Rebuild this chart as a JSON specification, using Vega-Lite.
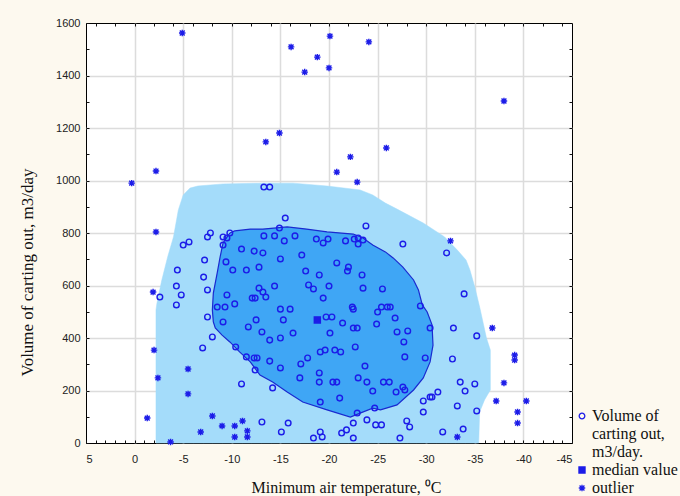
{
  "$schema": "https://vega.github.io/schema/vega-lite/v6.json",
  "width": 486,
  "height": 420,
  "autosize": "none",
  "padding": {"left": 86, "top": 23, "right": 108, "bottom": 53},
  "background": "#fdf9ef",
  "config": {
    "view": {"fill": "white", "stroke": "black", "strokeWidth": 1},
    "axis": {
      "domain": false,
      "tickColor": "#111111",
      "tickWidth": 1,
      "labelFont": "Liberation Sans",
      "labelFontSize": 11,
      "labelColor": "#222222",
      "labelOverlap": false,
      "titleFont": "Liberation Serif",
      "titleFontSize": 16,
      "titleFontWeight": "normal",
      "titleColor": "#111111",
      "gridColor": "#dcdcdc",
      "gridWidth": 1.5
    },
    "legend": {
      "orient": "none",
      "legendX": 488,
      "legendY": 385,
      "padding": 0,
      "rowPadding": 2,
      "labelFont": "Liberation Serif",
      "labelFontSize": 16,
      "labelColor": "#111111",
      "labelLimit": 200,
      "labelOffset": 2,
      "symbolStrokeWidth": 1.3
    }
  },
  "datasets": {
    "fence": [
      {"i": 0, "temp": -2.2, "volume": 0}, {"i": 1, "temp": -2.2, "volume": 507}, {"i": 2, "temp": -2.3, "volume": 533},
      {"i": 3, "temp": -2.8, "volume": 621}, {"i": 4, "temp": -3.4, "volume": 709}, {"i": 5, "temp": -4.0, "volume": 785},
      {"i": 6, "temp": -4.5, "volume": 888}, {"i": 7, "temp": -5.0, "volume": 945}, {"i": 8, "temp": -5.7, "volume": 971},
      {"i": 9, "temp": -6.5, "volume": 979}, {"i": 10, "temp": -9.1, "volume": 987}, {"i": 11, "temp": -13.4, "volume": 990},
      {"i": 12, "temp": -16.3, "volume": 990}, {"i": 13, "temp": -19.8, "volume": 979}, {"i": 14, "temp": -23.2, "volume": 964},
      {"i": 15, "temp": -24.5, "volume": 945}, {"i": 16, "temp": -25.8, "volume": 914}, {"i": 17, "temp": -27.0, "volume": 891},
      {"i": 18, "temp": -29.7, "volume": 838}, {"i": 19, "temp": -31.9, "volume": 785}, {"i": 20, "temp": -33.2, "volume": 735},
      {"i": 21, "temp": -34.1, "volume": 697}, {"i": 22, "temp": -34.5, "volume": 659}, {"i": 23, "temp": -35.0, "volume": 594},
      {"i": 24, "temp": -35.5, "volume": 518}, {"i": 25, "temp": -36.2, "volume": 400}, {"i": 26, "temp": -36.6, "volume": 354},
      {"i": 27, "temp": -36.6, "volume": 202}, {"i": 28, "temp": -36.0, "volume": 164}, {"i": 29, "temp": -35.5, "volume": 118},
      {"i": 30, "temp": -35.4, "volume": 0}, {"i": 31, "temp": -2.2, "volume": 0}
    ],
    "bag": [
      {"i": 0, "temp": -9.8, "volume": 800}, {"i": 1, "temp": -10.3, "volume": 808}, {"i": 2, "temp": -11.9, "volume": 815},
      {"i": 3, "temp": -13.2, "volume": 815}, {"i": 4, "temp": -15.7, "volume": 823}, {"i": 5, "temp": -17.7, "volume": 815},
      {"i": 6, "temp": -19.8, "volume": 804}, {"i": 7, "temp": -22.5, "volume": 796}, {"i": 8, "temp": -23.5, "volume": 781},
      {"i": 9, "temp": -24.5, "volume": 754}, {"i": 10, "temp": -25.8, "volume": 728}, {"i": 11, "temp": -26.6, "volume": 705},
      {"i": 12, "temp": -27.6, "volume": 670}, {"i": 13, "temp": -28.7, "volume": 621}, {"i": 14, "temp": -29.2, "volume": 583},
      {"i": 15, "temp": -29.6, "volume": 526}, {"i": 16, "temp": -30.1, "volume": 499}, {"i": 17, "temp": -30.6, "volume": 450},
      {"i": 18, "temp": -30.7, "volume": 373}, {"i": 19, "temp": -30.4, "volume": 309}, {"i": 20, "temp": -29.7, "volume": 248},
      {"i": 21, "temp": -28.7, "volume": 202}, {"i": 22, "temp": -27.0, "volume": 145}, {"i": 23, "temp": -25.3, "volume": 126},
      {"i": 24, "temp": -24.5, "volume": 133}, {"i": 25, "temp": -23.2, "volume": 114}, {"i": 26, "temp": -22.2, "volume": 99},
      {"i": 27, "temp": -19.8, "volume": 126}, {"i": 28, "temp": -17.3, "volume": 156}, {"i": 29, "temp": -15.7, "volume": 194},
      {"i": 30, "temp": -14.2, "volume": 232}, {"i": 31, "temp": -12.9, "volume": 259}, {"i": 32, "temp": -11.9, "volume": 309},
      {"i": 33, "temp": -10.8, "volume": 347}, {"i": 34, "temp": -9.8, "volume": 385}, {"i": 35, "temp": -9.0, "volume": 411},
      {"i": 36, "temp": -8.3, "volume": 438}, {"i": 37, "temp": -8.1, "volume": 461}, {"i": 38, "temp": -8.0, "volume": 507},
      {"i": 39, "temp": -8.1, "volume": 571}, {"i": 40, "temp": -8.5, "volume": 648}, {"i": 41, "temp": -8.8, "volume": 709},
      {"i": 42, "temp": -9.1, "volume": 762}, {"i": 43, "temp": -9.8, "volume": 800}
    ],
    "points": [
      {"temp": -13.3, "volume": 975, "type": "Volume of carting out, m3/day."},
      {"temp": -13.9, "volume": 975, "type": "Volume of carting out, m3/day."},
      {"temp": -15.5, "volume": 857, "type": "Volume of carting out, m3/day."},
      {"temp": -23.8, "volume": 827, "type": "Volume of carting out, m3/day."},
      {"temp": -14.9, "volume": 819, "type": "Volume of carting out, m3/day."},
      {"temp": -5.0, "volume": 754, "type": "Volume of carting out, m3/day."},
      {"temp": -5.6, "volume": 766, "type": "Volume of carting out, m3/day."},
      {"temp": -7.5, "volume": 785, "type": "Volume of carting out, m3/day."},
      {"temp": -7.8, "volume": 800, "type": "Volume of carting out, m3/day."},
      {"temp": -9.1, "volume": 785, "type": "Volume of carting out, m3/day."},
      {"temp": -9.5, "volume": 781, "type": "Volume of carting out, m3/day."},
      {"temp": -9.8, "volume": 800, "type": "Volume of carting out, m3/day."},
      {"temp": -9.1, "volume": 754, "type": "Volume of carting out, m3/day."},
      {"temp": -13.3, "volume": 789, "type": "Volume of carting out, m3/day."},
      {"temp": -14.4, "volume": 789, "type": "Volume of carting out, m3/day."},
      {"temp": -15.4, "volume": 770, "type": "Volume of carting out, m3/day."},
      {"temp": -16.5, "volume": 789, "type": "Volume of carting out, m3/day."},
      {"temp": -18.7, "volume": 777, "type": "Volume of carting out, m3/day."},
      {"temp": -19.4, "volume": 762, "type": "Volume of carting out, m3/day."},
      {"temp": -19.9, "volume": 777, "type": "Volume of carting out, m3/day."},
      {"temp": -21.7, "volume": 770, "type": "Volume of carting out, m3/day."},
      {"temp": -22.6, "volume": 777, "type": "Volume of carting out, m3/day."},
      {"temp": -23.0, "volume": 781, "type": "Volume of carting out, m3/day."},
      {"temp": -23.5, "volume": 773, "type": "Volume of carting out, m3/day."},
      {"temp": -23.0, "volume": 758, "type": "Volume of carting out, m3/day."},
      {"temp": -27.6, "volume": 758, "type": "Volume of carting out, m3/day."},
      {"temp": -32.1, "volume": 724, "type": "Volume of carting out, m3/day."},
      {"temp": -11.0, "volume": 739, "type": "Volume of carting out, m3/day."},
      {"temp": -12.3, "volume": 731, "type": "Volume of carting out, m3/day."},
      {"temp": -13.2, "volume": 724, "type": "Volume of carting out, m3/day."},
      {"temp": -7.2, "volume": 697, "type": "Volume of carting out, m3/day."},
      {"temp": -9.4, "volume": 690, "type": "Volume of carting out, m3/day."},
      {"temp": -15.0, "volume": 701, "type": "Volume of carting out, m3/day."},
      {"temp": -17.2, "volume": 716, "type": "Volume of carting out, m3/day."},
      {"temp": -20.8, "volume": 686, "type": "Volume of carting out, m3/day."},
      {"temp": -22.0, "volume": 670, "type": "Volume of carting out, m3/day."},
      {"temp": -21.9, "volume": 655, "type": "Volume of carting out, m3/day."},
      {"temp": -17.6, "volume": 655, "type": "Volume of carting out, m3/day."},
      {"temp": -19.0, "volume": 640, "type": "Volume of carting out, m3/day."},
      {"temp": -23.4, "volume": 640, "type": "Volume of carting out, m3/day."},
      {"temp": -4.4, "volume": 659, "type": "Volume of carting out, m3/day."},
      {"temp": -7.1, "volume": 632, "type": "Volume of carting out, m3/day."},
      {"temp": -10.1, "volume": 659, "type": "Volume of carting out, m3/day."},
      {"temp": -11.5, "volume": 659, "type": "Volume of carting out, m3/day."},
      {"temp": -12.8, "volume": 670, "type": "Volume of carting out, m3/day."},
      {"temp": -4.3, "volume": 598, "type": "Volume of carting out, m3/day."},
      {"temp": -4.8, "volume": 564, "type": "Volume of carting out, m3/day."},
      {"temp": -7.5, "volume": 583, "type": "Volume of carting out, m3/day."},
      {"temp": -9.5, "volume": 564, "type": "Volume of carting out, m3/day."},
      {"temp": -12.8, "volume": 590, "type": "Volume of carting out, m3/day."},
      {"temp": -12.1, "volume": 552, "type": "Volume of carting out, m3/day."},
      {"temp": -12.4, "volume": 552, "type": "Volume of carting out, m3/day."},
      {"temp": -2.6, "volume": 556, "type": "Volume of carting out, m3/day."},
      {"temp": -14.4, "volume": 598, "type": "Volume of carting out, m3/day."},
      {"temp": -17.9, "volume": 602, "type": "Volume of carting out, m3/day."},
      {"temp": -18.4, "volume": 587, "type": "Volume of carting out, m3/day."},
      {"temp": -20.0, "volume": 598, "type": "Volume of carting out, m3/day."},
      {"temp": -23.5, "volume": 590, "type": "Volume of carting out, m3/day."},
      {"temp": -25.5, "volume": 587, "type": "Volume of carting out, m3/day."},
      {"temp": -13.2, "volume": 575, "type": "Volume of carting out, m3/day."},
      {"temp": -13.5, "volume": 556, "type": "Volume of carting out, m3/day."},
      {"temp": -19.4, "volume": 552, "type": "Volume of carting out, m3/day."},
      {"temp": -33.9, "volume": 568, "type": "Volume of carting out, m3/day."},
      {"temp": -4.3, "volume": 526, "type": "Volume of carting out, m3/day."},
      {"temp": -8.5, "volume": 518, "type": "Volume of carting out, m3/day."},
      {"temp": -9.3, "volume": 518, "type": "Volume of carting out, m3/day."},
      {"temp": -10.3, "volume": 530, "type": "Volume of carting out, m3/day."},
      {"temp": -22.4, "volume": 518, "type": "Volume of carting out, m3/day."},
      {"temp": -25.4, "volume": 518, "type": "Volume of carting out, m3/day."},
      {"temp": -15.0, "volume": 510, "type": "Volume of carting out, m3/day."},
      {"temp": -16.0, "volume": 510, "type": "Volume of carting out, m3/day."},
      {"temp": -26.0, "volume": 518, "type": "Volume of carting out, m3/day."},
      {"temp": -26.3, "volume": 518, "type": "Volume of carting out, m3/day."},
      {"temp": -29.4, "volume": 522, "type": "Volume of carting out, m3/day."},
      {"temp": -7.5, "volume": 480, "type": "Volume of carting out, m3/day."},
      {"temp": -9.1, "volume": 461, "type": "Volume of carting out, m3/day."},
      {"temp": -15.3, "volume": 469, "type": "Volume of carting out, m3/day."},
      {"temp": -19.7, "volume": 480, "type": "Volume of carting out, m3/day."},
      {"temp": -20.3, "volume": 480, "type": "Volume of carting out, m3/day."},
      {"temp": -22.5, "volume": 510, "type": "Volume of carting out, m3/day."},
      {"temp": -25.0, "volume": 499, "type": "Volume of carting out, m3/day."},
      {"temp": -26.8, "volume": 476, "type": "Volume of carting out, m3/day."},
      {"temp": -11.7, "volume": 442, "type": "Volume of carting out, m3/day."},
      {"temp": -12.5, "volume": 469, "type": "Volume of carting out, m3/day."},
      {"temp": -13.1, "volume": 423, "type": "Volume of carting out, m3/day."},
      {"temp": -21.4, "volume": 457, "type": "Volume of carting out, m3/day."},
      {"temp": -22.5, "volume": 438, "type": "Volume of carting out, m3/day."},
      {"temp": -22.9, "volume": 438, "type": "Volume of carting out, m3/day."},
      {"temp": -24.9, "volume": 453, "type": "Volume of carting out, m3/day."},
      {"temp": -13.9, "volume": 392, "type": "Volume of carting out, m3/day."},
      {"temp": -15.0, "volume": 400, "type": "Volume of carting out, m3/day."},
      {"temp": -16.3, "volume": 419, "type": "Volume of carting out, m3/day."},
      {"temp": -20.1, "volume": 419, "type": "Volume of carting out, m3/day."},
      {"temp": -30.4, "volume": 438, "type": "Volume of carting out, m3/day."},
      {"temp": -32.8, "volume": 438, "type": "Volume of carting out, m3/day."},
      {"temp": -35.2, "volume": 408, "type": "Volume of carting out, m3/day."},
      {"temp": -27.0, "volume": 423, "type": "Volume of carting out, m3/day."},
      {"temp": -28.1, "volume": 427, "type": "Volume of carting out, m3/day."},
      {"temp": -27.7, "volume": 385, "type": "Volume of carting out, m3/day."},
      {"temp": -8.0, "volume": 404, "type": "Volume of carting out, m3/day."},
      {"temp": -7.0, "volume": 362, "type": "Volume of carting out, m3/day."},
      {"temp": -10.4, "volume": 366, "type": "Volume of carting out, m3/day."},
      {"temp": -19.1, "volume": 347, "type": "Volume of carting out, m3/day."},
      {"temp": -19.6, "volume": 354, "type": "Volume of carting out, m3/day."},
      {"temp": -20.6, "volume": 354, "type": "Volume of carting out, m3/day."},
      {"temp": -21.2, "volume": 347, "type": "Volume of carting out, m3/day."},
      {"temp": -22.7, "volume": 366, "type": "Volume of carting out, m3/day."},
      {"temp": -11.5, "volume": 328, "type": "Volume of carting out, m3/day."},
      {"temp": -12.3, "volume": 324, "type": "Volume of carting out, m3/day."},
      {"temp": -12.6, "volume": 324, "type": "Volume of carting out, m3/day."},
      {"temp": -17.8, "volume": 324, "type": "Volume of carting out, m3/day."},
      {"temp": -17.1, "volume": 301, "type": "Volume of carting out, m3/day."},
      {"temp": -13.9, "volume": 312, "type": "Volume of carting out, m3/day."},
      {"temp": -15.0, "volume": 286, "type": "Volume of carting out, m3/day."},
      {"temp": -23.7, "volume": 293, "type": "Volume of carting out, m3/day."},
      {"temp": -27.8, "volume": 328, "type": "Volume of carting out, m3/day."},
      {"temp": -29.9, "volume": 324, "type": "Volume of carting out, m3/day."},
      {"temp": -32.7, "volume": 320, "type": "Volume of carting out, m3/day."},
      {"temp": -12.4, "volume": 278, "type": "Volume of carting out, m3/day."},
      {"temp": -17.0, "volume": 248, "type": "Volume of carting out, m3/day."},
      {"temp": -19.0, "volume": 267, "type": "Volume of carting out, m3/day."},
      {"temp": -19.0, "volume": 232, "type": "Volume of carting out, m3/day."},
      {"temp": -20.4, "volume": 232, "type": "Volume of carting out, m3/day."},
      {"temp": -20.8, "volume": 232, "type": "Volume of carting out, m3/day."},
      {"temp": -23.0, "volume": 248, "type": "Volume of carting out, m3/day."},
      {"temp": -23.9, "volume": 232, "type": "Volume of carting out, m3/day."},
      {"temp": -25.6, "volume": 232, "type": "Volume of carting out, m3/day."},
      {"temp": -24.5, "volume": 198, "type": "Volume of carting out, m3/day."},
      {"temp": -26.2, "volume": 232, "type": "Volume of carting out, m3/day."},
      {"temp": -26.9, "volume": 194, "type": "Volume of carting out, m3/day."},
      {"temp": -27.6, "volume": 213, "type": "Volume of carting out, m3/day."},
      {"temp": -27.8, "volume": 202, "type": "Volume of carting out, m3/day."},
      {"temp": -11.0, "volume": 225, "type": "Volume of carting out, m3/day."},
      {"temp": -14.2, "volume": 210, "type": "Volume of carting out, m3/day."},
      {"temp": -33.5, "volume": 232, "type": "Volume of carting out, m3/day."},
      {"temp": -34.0, "volume": 198, "type": "Volume of carting out, m3/day."},
      {"temp": -35.0, "volume": 225, "type": "Volume of carting out, m3/day."},
      {"temp": -21.1, "volume": 171, "type": "Volume of carting out, m3/day."},
      {"temp": -19.1, "volume": 156, "type": "Volume of carting out, m3/day."},
      {"temp": -22.9, "volume": 114, "type": "Volume of carting out, m3/day."},
      {"temp": -24.7, "volume": 133, "type": "Volume of carting out, m3/day."},
      {"temp": -23.9, "volume": 88, "type": "Volume of carting out, m3/day."},
      {"temp": -29.7, "volume": 160, "type": "Volume of carting out, m3/day."},
      {"temp": -30.4, "volume": 175, "type": "Volume of carting out, m3/day."},
      {"temp": -30.6, "volume": 175, "type": "Volume of carting out, m3/day."},
      {"temp": -31.2, "volume": 194, "type": "Volume of carting out, m3/day."},
      {"temp": -29.7, "volume": 118, "type": "Volume of carting out, m3/day."},
      {"temp": -33.2, "volume": 141, "type": "Volume of carting out, m3/day."},
      {"temp": -35.2, "volume": 122, "type": "Volume of carting out, m3/day."},
      {"temp": -22.5, "volume": 76, "type": "Volume of carting out, m3/day."},
      {"temp": -13.1, "volume": 80, "type": "Volume of carting out, m3/day."},
      {"temp": -15.8, "volume": 76, "type": "Volume of carting out, m3/day."},
      {"temp": -15.1, "volume": 42, "type": "Volume of carting out, m3/day."},
      {"temp": -19.1, "volume": 42, "type": "Volume of carting out, m3/day."},
      {"temp": -19.3, "volume": 23, "type": "Volume of carting out, m3/day."},
      {"temp": -18.4, "volume": 19, "type": "Volume of carting out, m3/day."},
      {"temp": -21.3, "volume": 38, "type": "Volume of carting out, m3/day."},
      {"temp": -21.8, "volume": 50, "type": "Volume of carting out, m3/day."},
      {"temp": -22.5, "volume": 19, "type": "Volume of carting out, m3/day."},
      {"temp": -24.8, "volume": 69, "type": "Volume of carting out, m3/day."},
      {"temp": -25.4, "volume": 69, "type": "Volume of carting out, m3/day."},
      {"temp": -28.0, "volume": 84, "type": "Volume of carting out, m3/day."},
      {"temp": -28.3, "volume": 61, "type": "Volume of carting out, m3/day."},
      {"temp": -27.3, "volume": 19, "type": "Volume of carting out, m3/day."},
      {"temp": -31.7, "volume": 42, "type": "Volume of carting out, m3/day."},
      {"temp": -33.8, "volume": 53, "type": "Volume of carting out, m3/day."},
      {"temp": -4.9, "volume": 1562, "type": "outlier"},
      {"temp": -16.1, "volume": 1509, "type": "outlier"},
      {"temp": -18.8, "volume": 1470, "type": "outlier"},
      {"temp": -17.5, "volume": 1413, "type": "outlier"},
      {"temp": -20.1, "volume": 1550, "type": "outlier"},
      {"temp": -20.0, "volume": 1429, "type": "outlier"},
      {"temp": -24.1, "volume": 1528, "type": "outlier"},
      {"temp": -38.0, "volume": 1303, "type": "outlier"},
      {"temp": -14.9, "volume": 1181, "type": "outlier"},
      {"temp": -13.5, "volume": 1147, "type": "outlier"},
      {"temp": -25.9, "volume": 1124, "type": "outlier"},
      {"temp": -22.2, "volume": 1090, "type": "outlier"},
      {"temp": -20.8, "volume": 1032, "type": "outlier"},
      {"temp": -22.9, "volume": 994, "type": "outlier"},
      {"temp": 0.3, "volume": 990, "type": "outlier"},
      {"temp": -2.2, "volume": 1036, "type": "outlier"},
      {"temp": -2.2, "volume": 804, "type": "outlier"},
      {"temp": -32.5, "volume": 770, "type": "outlier"},
      {"temp": -1.9, "volume": 575, "type": "outlier"},
      {"temp": -2.0, "volume": 354, "type": "outlier"},
      {"temp": -2.4, "volume": 248, "type": "outlier"},
      {"temp": -5.5, "volume": 282, "type": "outlier"},
      {"temp": -5.5, "volume": 187, "type": "outlier"},
      {"temp": -1.3, "volume": 95, "type": "outlier"},
      {"temp": -8.0, "volume": 103, "type": "outlier"},
      {"temp": -9.0, "volume": 65, "type": "outlier"},
      {"temp": -10.3, "volume": 65, "type": "outlier"},
      {"temp": -11.1, "volume": 84, "type": "outlier"},
      {"temp": -6.8, "volume": 42, "type": "outlier"},
      {"temp": -10.3, "volume": 23, "type": "outlier"},
      {"temp": -11.6, "volume": 46, "type": "outlier"},
      {"temp": -11.6, "volume": 23, "type": "outlier"},
      {"temp": -3.7, "volume": 4, "type": "outlier"},
      {"temp": -36.8, "volume": 438, "type": "outlier"},
      {"temp": -39.1, "volume": 335, "type": "outlier"},
      {"temp": -39.1, "volume": 316, "type": "outlier"},
      {"temp": -38.0, "volume": 229, "type": "outlier"},
      {"temp": -37.2, "volume": 160, "type": "outlier"},
      {"temp": -40.3, "volume": 160, "type": "outlier"},
      {"temp": -39.4, "volume": 118, "type": "outlier"},
      {"temp": -39.4, "volume": 76, "type": "outlier"},
      {"temp": -33.2, "volume": 23, "type": "outlier"},
      {"temp": -18.8, "volume": 469, "type": "median value"}
    ]
  },
  "resolve": {"axis": {"x": "independent", "y": "independent"}},
  "layer": [
    {
      "data": {"name": "fence"},
      "mark": {"type": "line", "fill": "#a4dcfa", "stroke": "#a4dcfa", "strokeWidth": 0.5, "interpolate": "linear"},
      "encoding": {
        "x": {
          "field": "temp", "type": "quantitative",
          "scale": {"domain": [-45, 5], "reverse": true, "nice": false, "zero": false},
          "axis": {
            "orient": "bottom",
            "values": [5,4,3,2,1,0,-1,-2,-3,-4,-5,-6,-7,-8,-9,-10,-11,-12,-13,-14,-15,-16,-17,-18,-19,-20,-21,-22,-23,-24,-25,-26,-27,-28,-29,-30,-31,-32,-33,-34,-35,-36,-37,-38,-39,-40,-41,-42,-43,-44,-45],
            "grid": true,
            "gridOpacity": {"condition": {"test": "datum.value % 5 === 0 && datum.value !== 5 && datum.value !== -45", "value": 1}, "value": 0},
            "labelExpr": "datum.value % 5 === 0 ? '' + datum.value : ''",
            "tickSize": -3,
            "labelPadding": 13,
            "title": "Minimum air temperature, ⁰C",
            "titleX": 260,
            "titleY": 44,
            "titleBaseline": "middle",
            "titleAlign": "center"
          }
        },
        "y": {
          "field": "volume", "type": "quantitative",
          "scale": {"domain": [0, 1600], "nice": false},
          "axis": {
            "orient": "left",
            "values": [0,100,200,300,400,500,600,700,800,900,1000,1100,1200,1300,1400,1500,1600],
            "grid": true,
            "gridOpacity": {"condition": {"test": "datum.value % 200 === 0 && datum.value !== 0 && datum.value !== 1600", "value": 1}, "value": 0},
            "labelExpr": "datum.value % 200 === 0 ? '' + datum.value : ''",
            "tickSize": -3,
            "labelPadding": 9,
            "title": "Volume of carting out, m3/day",
            "titleFontSize": 17,
            "titleX": -59,
            "titleY": 249,
            "titleAngle": -90,
            "titleBaseline": "middle",
            "titleAlign": "center"
          }
        },
        "order": {"field": "i", "type": "quantitative"}
      }
    },
    {
      "data": {"name": "bag"},
      "mark": {"type": "line", "fill": "#3fa6f5", "stroke": "#1a2ad0", "strokeWidth": 1.2, "interpolate": "linear"},
      "encoding": {
        "x": {
          "field": "temp", "type": "quantitative",
          "axis": {
            "orient": "top",
            "values": [4,2,0,-2,-4,-6,-8,-10,-12,-14,-16,-18,-20,-22,-24,-26,-28,-30,-32,-34,-36,-38,-40,-42,-44],
            "grid": false, "labels": false, "tickSize": -3, "title": null
          }
        },
        "y": {
          "field": "volume", "type": "quantitative",
          "axis": {
            "orient": "right",
            "values": [100,200,300,400,500,600,700,800,900,1000,1100,1200,1300,1400,1500],
            "grid": false, "labels": false, "tickSize": -3, "title": null
          }
        },
        "order": {"field": "i", "type": "quantitative"}
      }
    },
    {
      "data": {"name": "points"},
      "mark": {"type": "point", "strokeWidth": 1.4, "opacity": 1},
      "encoding": {
        "x": {"field": "temp", "type": "quantitative", "axis": null},
        "y": {"field": "volume", "type": "quantitative", "axis": null},
        "shape": {
          "field": "type", "type": "nominal",
          "scale": {"domain": ["Volume of carting out, m3/day.", "median value", "outlier"], "range": ["circle", "square", "M-1,0H1M0,-1V1M-0.75,-0.75L0.75,0.75M-0.75,0.75L0.75,-0.75"]},
          "legend": {
            "title": null,
            "labelExpr": "datum.label === 'Volume of carting out, m3/day.' ? ['Volume of', 'carting out,', 'm3/day.'] : datum.label"
          }
        },
        "fill": {
          "field": "type", "type": "nominal",
          "scale": {"domain": ["Volume of carting out, m3/day.", "median value", "outlier"], "range": ["transparent", "#1c1ce8", "transparent"]},
          "legend": {"title": null}
        },
        "stroke": {
          "field": "type", "type": "nominal",
          "scale": {"domain": ["Volume of carting out, m3/day.", "median value", "outlier"], "range": ["#1c1ce8", "#1c1ce8", "#1c1ce8"]},
          "legend": {"title": null}
        },
        "size": {
          "field": "type", "type": "nominal",
          "scale": {"domain": ["Volume of carting out, m3/day.", "median value", "outlier"], "range": [32, 42, 42]},
          "legend": {"title": null}
        }
      }
    }
  ]
}
